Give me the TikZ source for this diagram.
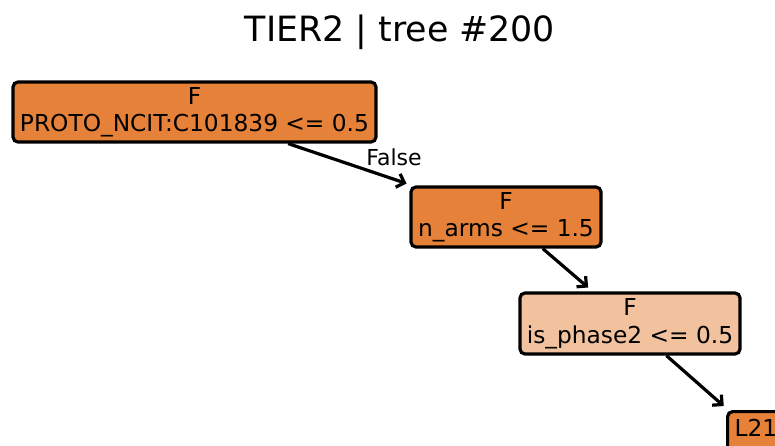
\documentclass[tikz,border=0pt]{standalone}
\usepackage{fontspec}
\setmainfont{DejaVu Sans}
\usetikzlibrary{arrows.meta}
\definecolor{dark}{HTML}{E58139}
\definecolor{pale}{HTML}{F2C29F}

\begin{document}
\begin{tikzpicture}[x=1pt,y=-1pt,
  split/.style={draw=black,line width=3.2pt,rounded corners=5pt,align=center,inner sep=0pt,font=\fontsize{23.3}{27.5}\selectfont},
  edge/.style={line width=3.2pt,-{Straight Barb[length=7pt,width=14pt]},shorten >=6pt}]
\path[use as bounding box,clip] (0,0) rectangle (775,445);
\node[font=\fontsize{34.8}{40}\selectfont] (title) at (400,32) {TIER2 | tree \#200};
\node[split,fill=dark,minimum width=363pt,minimum height=60pt] (root) at (194.5,112) {F\\PROTO\_NCIT:C101839 <= 0.5};
\node[split,fill=dark,minimum width=190pt,minimum height=60pt] (narms) at (506,217) {F\\n\_arms <= 1.5};
\node[split,fill=pale,minimum width=220pt,minimum height=61pt] (phase) at (630,323.5) {F\\is\_phase2 <= 0.5};
\node[split,fill=dark,anchor=north west,align=left,text width=74pt,inner xsep=7pt,inner ysep=8pt,text depth=40pt] (leaf) at (726,410) {L21};
\draw[edge] (root) -- (narms);
\draw[edge] (narms) -- (phase);
\draw[edge] (phase) -- (leaf);
\node[font=\fontsize{22}{26}\selectfont] (falselbl) at (394,157) {False};
\end{tikzpicture}
\end{document}
